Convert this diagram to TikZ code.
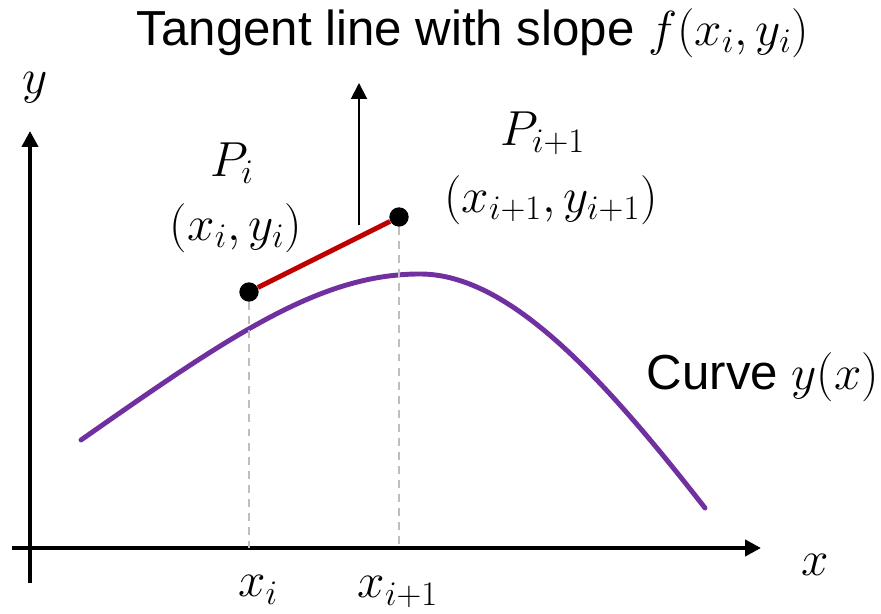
\documentclass[tikz,border=0pt]{standalone}
\usepackage{fix-cm}
\usepackage{fontspec}
\usepackage{amsmath}
\setmainfont{Liberation Sans}
\usetikzlibrary{calc,arrows.meta,positioning}
\definecolor{curvePurple}{RGB}{112,48,160}
\definecolor{tanRed}{RGB}{192,0,0}
\definecolor{guideGray}{RGB}{190,190,190}
\tikzset{
  axisline/.style={line width=2.5pt,-{Triangle[length=9pt,width=9pt]}},
  ptdot/.style={circle,fill=black,inner sep=0pt,minimum size=11pt},
  guide/.style={guideGray,line width=1.4pt,dash pattern=on 4.5pt off 3.5pt},
  lbl/.style={font=\fontsize{28}{32}\selectfont,inner sep=0pt}
}
\begin{document}
\begin{tikzpicture}
\useasboundingbox (0,0) rectangle (17.62,12.28);
% axes
\coordinate (xstart) at (0.24,1.32);
\coordinate (xend) at (15.22,1.32);
\coordinate (ystart) at (0.60,0.62);
\coordinate (yend) at (0.60,9.66);
\draw[axisline] (xstart) -- (xend);
\draw[axisline] (ystart) -- (yend);
\node[lbl] (xlab) at (16.30,0.98) {$x$};
\node[lbl] (ylab) at (0.70,10.52) {$y$};
% the curve
\coordinate (cstart) at (1.62,3.48);
\coordinate (cpeak) at (8.40,6.80);
\coordinate (cend) at (14.10,2.12);
\draw[curvePurple,line width=2.8pt,line cap=round] (cstart)
  .. controls (4.62,5.58) and (6.40,6.80) .. (cpeak)
  .. controls (10.20,6.80) and (12.10,4.68) .. (cend);
\node[lbl] (curvelab) at (15.26,4.74) {Curve $y(x)$};
% points and tangent
\node[ptdot] (pi) at (4.98,6.44) {};
\node[ptdot] (pnext) at (7.98,7.94) {};
\coordinate (xi) at (4.98,1.32);
\coordinate (xnext) at (7.98,1.32);
\draw[guide] (pi) -- (xi);
\draw[guide] (pnext) -- (xnext);
\draw[tanRed,line width=2.8pt] (pi) -- (pnext);
\coordinate (slopefoot) at (7.18,7.78);
\coordinate (slopetip) at (7.18,10.62);
\draw[line width=1.1pt,-{Triangle[length=9pt,width=9pt]}] (slopefoot) -- (slopetip);
\node[lbl] (title) at (9.46,11.62) {Tangent line with slope $f(x_i,y_i)$};
\node[lbl] (pilab) at (4.64,9.02) {$P_i$};
\node[lbl] (picoord) at (4.72,7.72) {$(x_i,y_i)$};
\node[lbl] (pnextlab) at (10.86,9.62) {$P_{i+1}$};
\node[lbl] (pnextcoord) at (11.02,8.28) {$(x_{i+1},y_{i+1})$};
\node[lbl] (xilab) at (5.16,0.48) {$x_i$};
\node[lbl] (xnextlab) at (7.96,0.44) {$x_{i+1}$};
\end{tikzpicture}
\end{document}
